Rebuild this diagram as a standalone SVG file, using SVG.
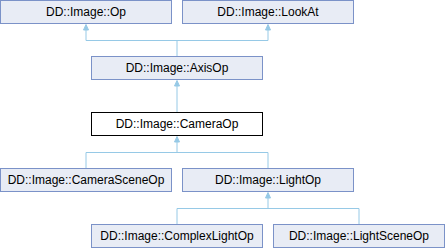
<svg xmlns="http://www.w3.org/2000/svg" width="445" height="248" viewBox="0 0 445 248">
<style>
.n rect{fill:#e8ecf5;stroke:#7b92c8;stroke-width:1}
.n.cur rect{fill:#ffffff;stroke:#000000}
.n text{font-family:"Liberation Sans",Arial,sans-serif;font-size:12px;fill:#000;text-anchor:middle}
.e path{fill:none;stroke:#96c9e6;stroke-width:1}
.e polygon{fill:#96c9e6;stroke:#96c9e6;stroke-width:1}
</style>
<rect width="445" height="248" fill="#ffffff"/>
<g id="connectors" class="e">
<path d="M177,56 V40.5 H86 V30"/>
<polygon points="86,24.5 83.5,30 88.5,30"/>
<path d="M177,40.5 H268 V30"/>
<polygon points="268,24.5 265.5,30 270.5,30"/>
<path d="M177,112 V86"/>
<polygon points="177,80.5 174.5,86 179.5,86"/>
<path d="M86,168 V152.5 H177 V142"/>
<polygon points="177,136.5 174.5,142 179.5,142"/>
<path d="M268,168 V152.5 H177"/>
<path d="M177,224 V208.5 H268 V198"/>
<polygon points="268,192.5 265.5,198 270.5,198"/>
<path d="M359,224 V208.5 H268"/>
</g>
<g id="op" class="n"><rect x="0.5" y="0.5" width="171" height="23"/><text x="86" y="16.3">DD::Image::Op</text></g>
<g id="lookat" class="n"><rect x="182.5" y="0.5" width="171" height="23"/><text x="268" y="16.3">DD::Image::LookAt</text></g>
<g id="axisop" class="n"><rect x="91.5" y="56.5" width="171" height="23"/><text x="177" y="72.3">DD::Image::AxisOp</text></g>
<g id="cameraop" class="n cur"><rect x="91.5" y="112.5" width="171" height="23"/><text x="177" y="128.3">DD::Image::CameraOp</text></g>
<g id="camerasceneop" class="n"><rect x="0.5" y="168.5" width="171" height="23"/><text x="86" y="184.3">DD::Image::CameraSceneOp</text></g>
<g id="lightop" class="n"><rect x="182.5" y="168.5" width="171" height="23"/><text x="268" y="184.3">DD::Image::LightOp</text></g>
<g id="complexlightop" class="n"><rect x="91.5" y="224.5" width="171" height="23"/><text x="177" y="240.3">DD::Image::ComplexLightOp</text></g>
<g id="lightsceneop" class="n"><rect x="273.5" y="224.5" width="171" height="23"/><text x="359" y="240.3">DD::Image::LightSceneOp</text></g>
</svg>
